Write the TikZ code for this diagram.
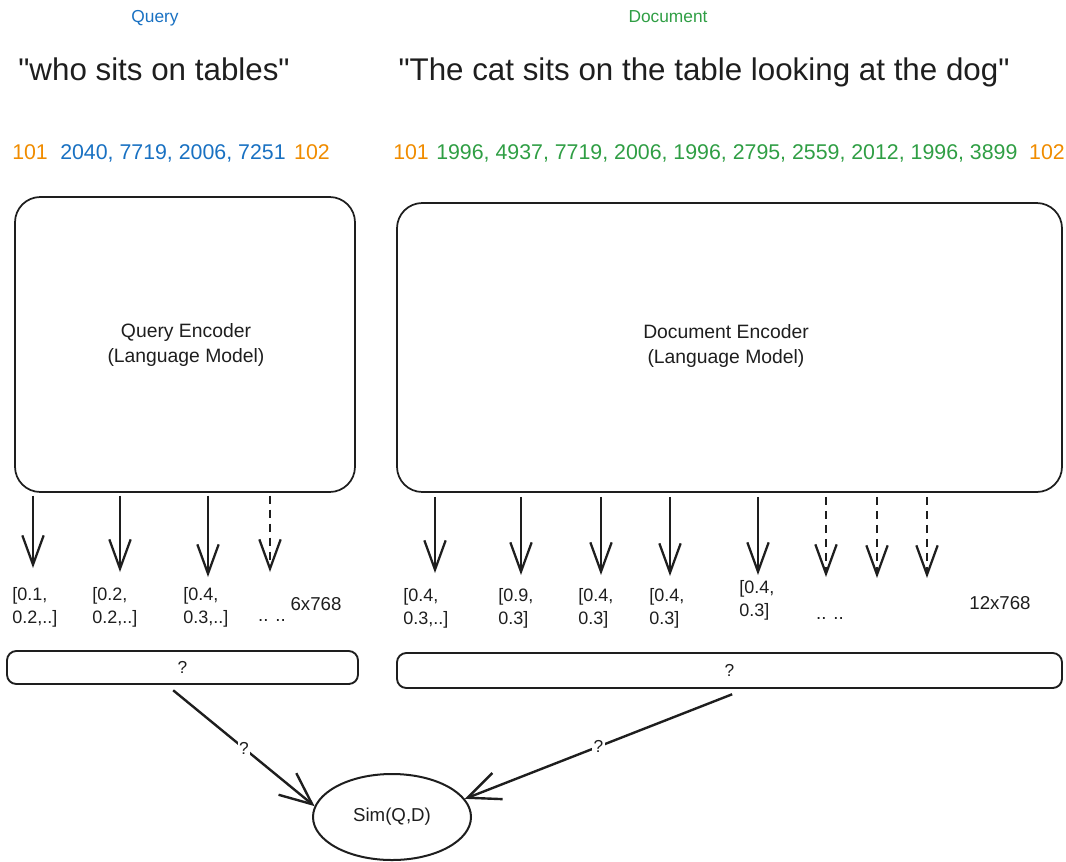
\documentclass[tikz,border=0pt]{standalone}
\usepackage{fontspec}
\setmainfont{Liberation Sans}[Ligatures=TeXOff]
\usetikzlibrary{arrows.meta,shapes.geometric}

\definecolor{ink}{HTML}{1E1E1E}
\definecolor{tokorange}{HTML}{F08C00}
\definecolor{tokblue}{HTML}{1971C2}
\definecolor{tokgreen}{HTML}{2F9E44}

\newcommand{\fs}[2]{\fontsize{#1}{#2}\selectfont}

\begin{document}
\begin{tikzpicture}[x=0.75pt,y=-0.75pt,
  encbox/.style={draw=ink,line width=1.3pt,rounded corners=19pt,inner sep=0pt},
  poolbox/.style={draw=ink,line width=1.4pt,rounded corners=7pt,inner sep=0pt},
  outarrow/.style={draw=ink,line width=1.7pt,-{Straight Barb[length=22pt,width=16pt,line width=1.7pt]}},
  dasharrow/.style={outarrow,dash pattern=on 6pt off 4.5pt},
  simarrow/.style={draw=ink,line width=1.8pt,-{Straight Barb[length=24pt,width=21pt,line width=1.8pt]}},
  vec/.style={anchor=west,align=left,inner sep=0pt,text=ink,font=\fs{13.5}{17}},
  dim/.style={inner sep=0pt,text=ink,font=\fs{14}{16}},
  tok/.style={anchor=base west,inner sep=0pt,font=\fs{16}{18}},
  qmark/.style={inner sep=1pt,text=ink,font=\fs{13}{15}}]

\useasboundingbox (0,0) rectangle (1066,861);

% headings
\node[anchor=base,text=tokblue,font=\fs{13}{15}] (qhead) at (155,22) {Query};
\node[anchor=base,text=tokgreen,font=\fs{13}{15}] (dhead) at (668,22) {Document};

% input sentences
\node[anchor=base,text=ink,font=\fs{23.5}{28}] (qtext) at (154,80) {"who sits on tables"};
\node[anchor=base,text=ink,font=\fs{23.5}{28}] (dtext) at (704,80) {"The cat sits on the table looking at the dog"};

% token ids
\node[tok,text=tokorange] (qcls) at (12,159) {101};
\node[tok,text=tokblue] (qids) at (60,159) {2040, 7719, 2006, 7251};
\node[tok,anchor=base east,text=tokorange] (qsep) at (330,159) {102};
\node[tok,text=tokorange] (dcls) at (393,159) {101};
\node[tok,text=tokgreen] (dids) at (436,159) {1996, 4937, 7719, 2006, 1996, 2795, 2559, 2012, 1996, 3899};
\node[tok,anchor=base east,text=tokorange] (dsep) at (1065,159) {102};

% encoders
\node[encbox,minimum width=255pt,minimum height=221.25pt] (qenc) at (185,344.5) {};
\node[align=center,text=ink,font=\fs{14.5}{18.75}] (qenclabel) at (186,345) {Query Encoder\\(Language Model)};
\node[encbox,minimum width=498.75pt,minimum height=216.75pt] (denc) at (729.5,347.5) {};
\node[align=center,text=ink,font=\fs{14.5}{18.75}] (denclabel) at (726,346) {Document Encoder\\(Language Model)};

% token embedding outputs (query)
\coordinate (qa1) at (33,568);
\coordinate (qa2) at (120,572);
\coordinate (qa3) at (208,577);
\coordinate (qa4) at (270,572);
\draw[outarrow,shorten <=2pt] (qenc.south -| qa1) -- (qa1);
\draw[outarrow,shorten <=2pt] (qenc.south -| qa2) -- (qa2);
\draw[outarrow,shorten <=2pt] (qenc.south -| qa3) -- (qa3);
\draw[dasharrow,shorten <=2pt] (qenc.south -| qa4) -- (qa4);

\node[vec] (qv1) at (12,607) {[0.1,\\0.2,..]};
\node[vec] (qv2) at (92,607) {[0.2,\\0.2,..]};
\node[vec] (qv3) at (183,607) {[0.4,\\0.3,..]};
\node[dim] (qdots) at (272,620) {.. ..};
\node[dim] (qdim) at (316,604) {6x768};

% token embedding outputs (document)
\coordinate (da1) at (435,573);
\coordinate (da2) at (521,575);
\coordinate (da3) at (601,575);
\coordinate (da4) at (670,576);
\coordinate (da5) at (758,575);
\coordinate (da6) at (826,577);
\coordinate (da7) at (877,578);
\coordinate (da8) at (927,578);
\foreach \c in {da1,da2,da3,da4,da5}
  \draw[outarrow,shorten <=3pt] (denc.south -| \c) -- (\c);
\foreach \c in {da6,da7,da8}
  \draw[dasharrow,shorten <=3pt] (denc.south -| \c) -- (\c);

\node[vec] (dv1) at (403,608) {[0.4,\\0.3,..]};
\node[vec] (dv2) at (498,608) {[0.9,\\0.3]};
\node[vec] (dv3) at (578,608) {[0.4,\\0.3]};
\node[vec] (dv4) at (649,608) {[0.4,\\0.3]};
\node[vec] (dv5) at (739,600) {[0.4,\\0.3]};
\node[dim] (ddots) at (830,618) {.. ..};
\node[dim] (ddim) at (1000,603) {12x768};

% pooling placeholders
\node[poolbox,minimum width=263.25pt,minimum height=24.75pt] (qpool) at (182.5,667.5) {};
\node[qmark] (qpoolq) at (qpool.center) {?};
\node[poolbox,minimum width=498.75pt,minimum height=26.25pt] (dpool) at (729.5,670.5) {};
\node[qmark] (dpoolq) at (dpool.center) {?};

% similarity
\node[ellipse,draw=ink,line width=1.5pt,minimum width=118.5pt,minimum height=64.5pt,inner sep=0pt,
      font=\fs{14}{16},text=ink] (sim) at (392,817) {Sim(Q,D)};

\draw[simarrow] ([xshift=-7pt,yshift=-4pt]qpool.south) -- (sim.172)
  node[qmark,fill=white,pos=0.5] {?};
\draw[simarrow] ([xshift=2pt,yshift=-4pt]dpool.south) -- (sim.14)
  node[qmark,fill=white,pos=0.5] {?};

\end{tikzpicture}
\end{document}
